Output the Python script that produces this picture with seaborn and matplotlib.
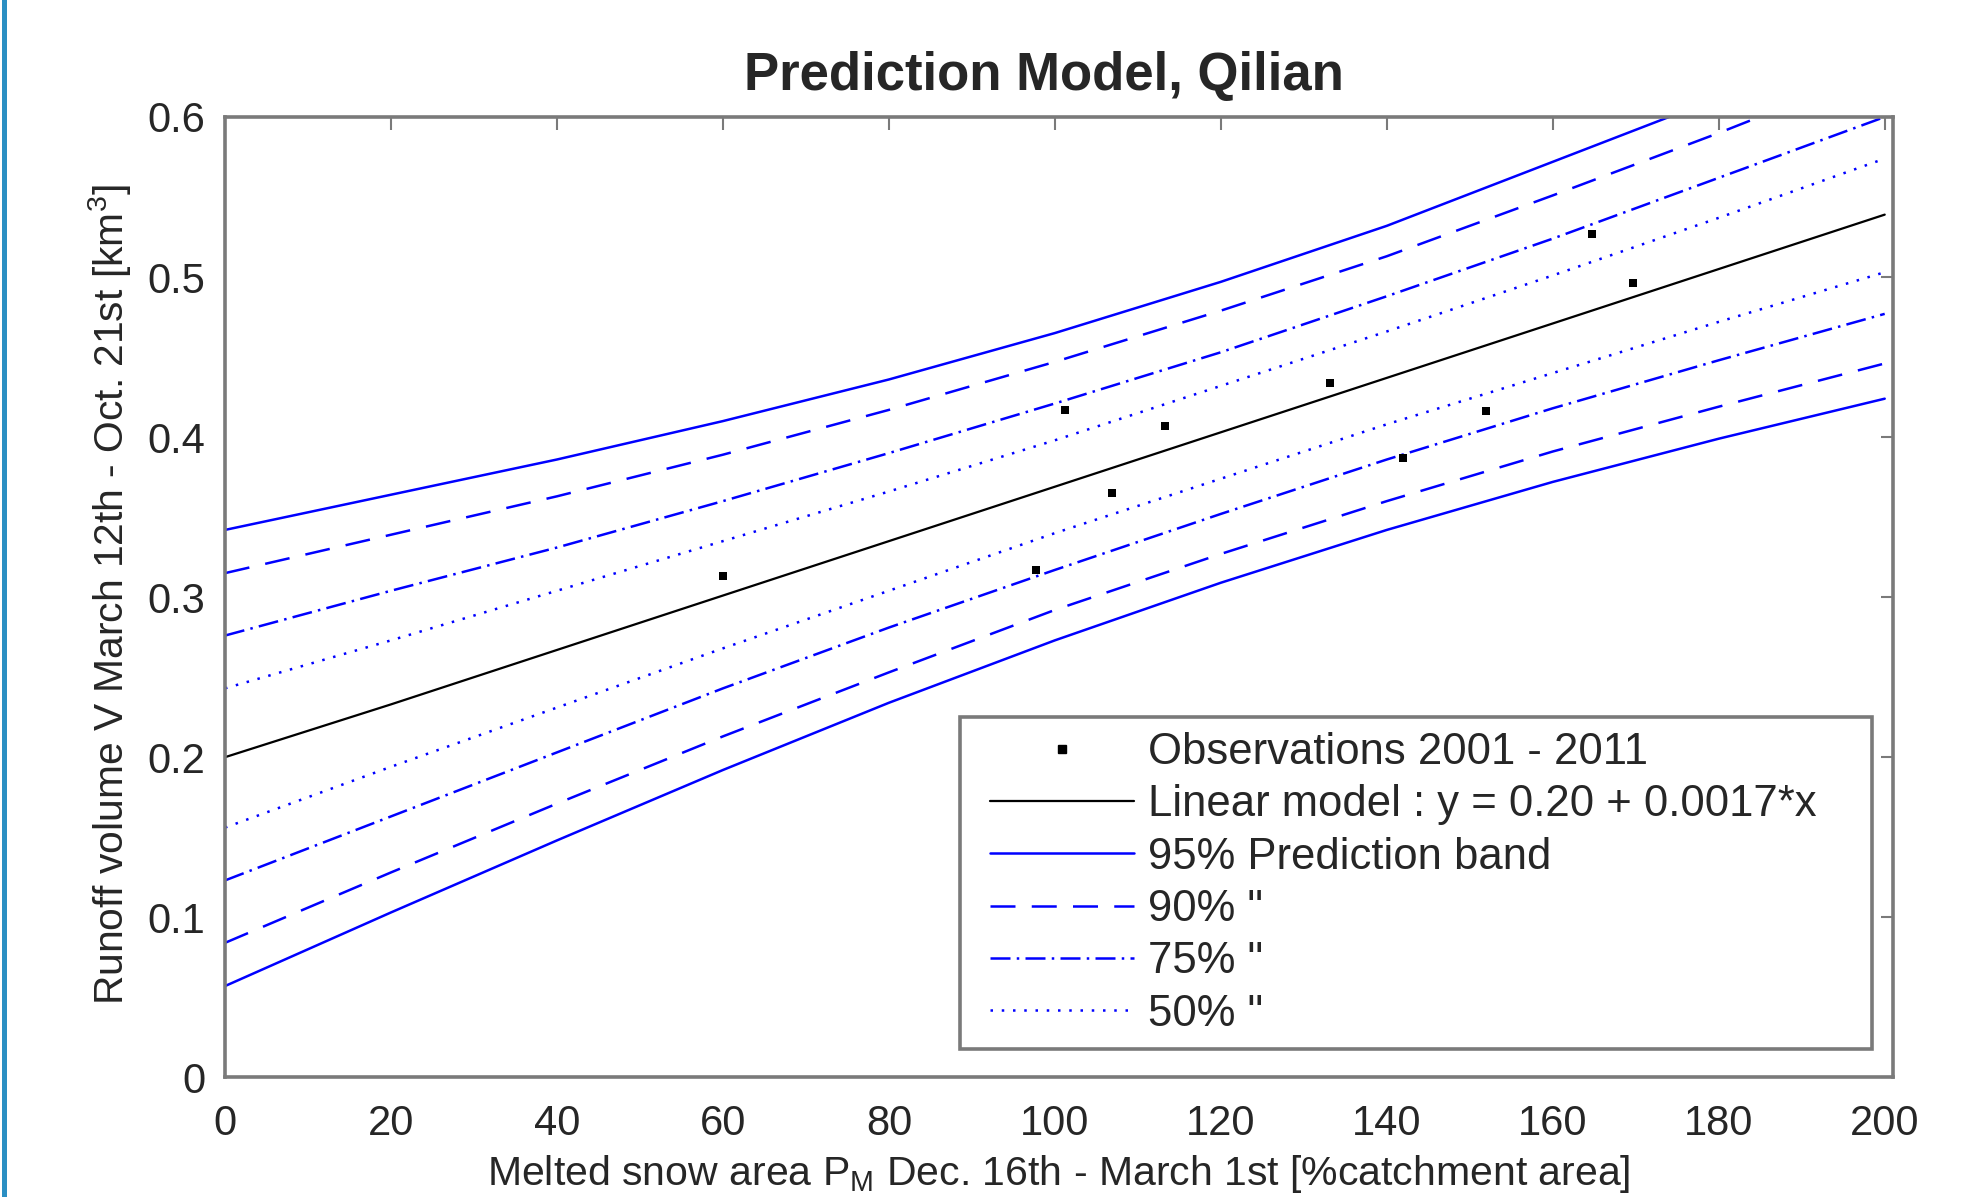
import matplotlib
matplotlib.use("Agg")
import numpy as np
import matplotlib.pyplot as plt
import seaborn as sns
from matplotlib.lines import Line2D
from matplotlib.patches import Rectangle
from matplotlib.legend_handler import HandlerLine2D

W, H = 1966, 1197

# observations 2001 - 2011
obs_x = [60.0, 97.7, 101.2, 106.9, 113.3, 133.1, 142.0, 152.0, 164.7, 169.7]
obs_y = [0.313, 0.317, 0.417, 0.365, 0.407, 0.434, 0.387, 0.416, 0.527, 0.496]

# curves sampled every 20 % of catchment area
grid_x = [0, 20, 40, 60, 80, 100, 120, 140, 160, 180, 200]
model_y = [0.200, 0.233, 0.267, 0.301, 0.335, 0.369, 0.403, 0.437, 0.471, 0.505, 0.539]
upper_95 = [0.342, 0.364, 0.386, 0.410, 0.436, 0.465, 0.497, 0.532, 0.572, 0.612, 0.654]
lower_95 = [0.057, 0.103, 0.148, 0.192, 0.234, 0.273, 0.309, 0.342, 0.372, 0.399, 0.424]
upper_90 = [0.315, 0.339, 0.363, 0.389, 0.417, 0.447, 0.479, 0.513, 0.551, 0.590, 0.631]
lower_90 = [0.084, 0.128, 0.171, 0.213, 0.253, 0.292, 0.327, 0.360, 0.391, 0.419, 0.446]
upper_75 = [0.276, 0.304, 0.331, 0.360, 0.390, 0.421, 0.453, 0.488, 0.524, 0.562, 0.600]
lower_75 = [0.123, 0.163, 0.203, 0.243, 0.281, 0.317, 0.352, 0.386, 0.418, 0.448, 0.477]
upper_50 = [0.243, 0.273, 0.304, 0.335, 0.366, 0.398, 0.432, 0.466, 0.501, 0.537, 0.574]
lower_50 = [0.156, 0.194, 0.231, 0.268, 0.304, 0.340, 0.374, 0.408, 0.440, 0.472, 0.503]

x_ticks = [0, 20, 40, 60, 80, 100, 120, 140, 160, 180, 200]
y_ticks = [0, 0.1, 0.2, 0.3, 0.4, 0.5, 0.6]
y_ticklabels = ['0', '0.1', '0.2', '0.3', '0.4', '0.5', '0.6']

legend_labels = ['Observations 2001 - 2011', 'Linear model : y = 0.20 + 0.0017*x',
                 '95% Prediction band', '90% "', '75% "', '50% "']

BLUE = '#0000ff'
TEXT = '#262626'
GRAY = '#7a7a7a'
LW = 1.8

styles = {
    '95': '-',
    '90': (0, (10, 6.5)),
    '75': (0, (8, 2.5, 1, 2.5)),
    '50': (0, (1, 3.5)),
}

sns.set_theme(style="white")
plt.rcParams['font.family'] = ['Liberation Sans', 'DejaVu Sans']
plt.rcParams['mathtext.fontset'] = 'custom'
plt.rcParams['mathtext.rm'] = 'Liberation Sans'
plt.rcParams['mathtext.it'] = 'Liberation Sans:italic'

fig = plt.figure(figsize=(W / 100, H / 100), dpi=100)
ax = fig.add_axes([225 / W, 1 - 1077.3 / H, 1668 / W, 960.3 / H])

sns.lineplot(x=grid_x, y=model_y, color='black', lw=LW * 0.9, ax=ax)
for up, lo, key in [(upper_95, lower_95, '95'), (upper_90, lower_90, '90'),
                    (upper_75, lower_75, '75'), (upper_50, lower_50, '50')]:
    sns.lineplot(x=grid_x, y=up, color=BLUE, lw=LW, linestyle=styles[key], ax=ax)
    sns.lineplot(x=grid_x, y=lo, color=BLUE, lw=LW, linestyle=styles[key], ax=ax)
sns.scatterplot(x=obs_x, y=obs_y, marker='s', s=36, color='black', linewidth=0, ax=ax, zorder=5)

ax.set_xlim(0, 201)
ax.set_ylim(0, 0.6)
ax.set_xticks(x_ticks)
ax.set_xticklabels([str(v) for v in x_ticks])
ax.set_yticks(y_ticks)
ax.set_yticklabels(y_ticklabels)
ax.tick_params(direction='in', length=9, width=1.5, top=True, right=True,
               labelsize=30, color=GRAY, labelcolor=TEXT)
ax.tick_params(axis='x', pad=19)
ax.tick_params(axis='y', pad=14)
for s in ax.spines.values():
    s.set_color(GRAY)
    s.set_linewidth(2.6)

handles = [
    Line2D([], [], marker='s', ls='none', color='black', markersize=6),
    Line2D([], [], color='black', lw=LW * 0.9),
    Line2D([], [], color=BLUE, lw=LW, ls=styles['95']),
    Line2D([], [], color=BLUE, lw=LW, ls=styles['90']),
    Line2D([], [], color=BLUE, lw=LW, ls=styles['75']),
    Line2D([], [], color=BLUE, lw=LW, ls=styles['50']),
]
leg = ax.legend(handles, legend_labels, loc='lower left',
                bbox_to_anchor=(0.4406, 0.0295, 0.5468, 0.35), mode='expand',
                borderaxespad=0, fontsize=31.4, handlelength=3.67, handletextpad=0.31,
                borderpad=0.33, labelspacing=0.26, frameon=True, fancybox=False,
                framealpha=1, edgecolor=GRAY,
                handler_map={Line2D: HandlerLine2D(xpad=0.35)})
leg.get_frame().set_linewidth(2.6)
for t in leg.get_texts():
    t.set_color(TEXT)

fig.text(1044 / W, 1 - 90 / H, 'Prediction Model, Qilian', ha='center', va='baseline',
         fontsize=38, fontweight='bold', color=TEXT)
fig.text(110 / W, 1 - 595 / H, 'Runoff volume V March 12th - Oct. 21st [km$^3$]',
         rotation=90, ha='center', va='center', fontsize=29.3, color=TEXT)
fig.text(1059 / W, 1 - 1185 / H,
         'Melted snow area P$_\\mathrm{M}$ Dec. 16th - March 1st [%catchment area]',
         ha='center', va='baseline', fontsize=29.5, color=TEXT)

# blue border strip on the left edge of the screenshot
fig.add_artist(Rectangle((2 / W, 0), 5 / W, 1, transform=fig.transFigure,
                         color='#2b8fc3', lw=0))

fig.savefig('out.png', dpi=100)
